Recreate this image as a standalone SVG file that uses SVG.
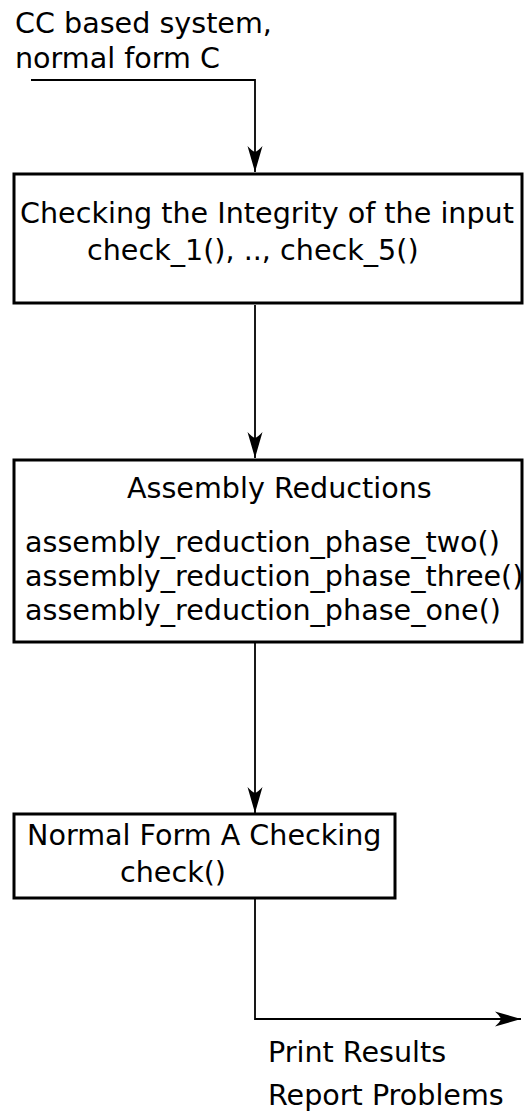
<svg xmlns="http://www.w3.org/2000/svg" width="526" height="1112" viewBox="0 0 526 1112">
<style>
text{font-family:"DejaVu Sans",sans-serif;font-size:28.6px;fill:#000}
.box{fill:#fff;stroke:#000;stroke-width:3}
.conn{fill:none;stroke:#000;stroke-width:1.8}
</style>
<defs>
<marker id="ah" viewBox="-27 -9 29 18" refX="0" refY="0" markerWidth="29" markerHeight="18" markerUnits="userSpaceOnUse" orient="auto">
<path d="M0,0 L-26,-7.5 Q-21,-3 -20,0 Q-21,3 -26,7.5 Z" fill="#000"/>
</marker>
</defs>
<rect width="526" height="1112" fill="#fff"/>
<g id="connectors">
<path class="conn" d="M31,80 H255 V172" marker-end="url(#ah)"/>
<path class="conn" d="M255,305 V458" marker-end="url(#ah)"/>
<path class="conn" d="M255,643 V813" marker-end="url(#ah)"/>
<path class="conn" d="M255,899 V1019 H521" marker-end="url(#ah)"/>
</g>
<g id="input">
<text x="15" y="33">CC based system,</text>
<text x="15" y="68">normal form C</text>
</g>
<g id="integrity">
<rect class="box" x="14" y="174" width="508" height="129"/>
<text x="20" y="223">Checking the Integrity of the input</text>
<text x="87" y="260">check_1(), .., check_5()</text>
</g>
<g id="assembly">
<rect class="box" x="14" y="460" width="508" height="182"/>
<text x="127" y="498">Assembly Reductions</text>
<text x="25" y="552">assembly_reduction_phase_two()</text>
<text x="25" y="586">assembly_reduction_phase_three()</text>
<text x="25" y="620">assembly_reduction_phase_one()</text>
</g>
<g id="normalform">
<rect class="box" x="14" y="814" width="381" height="84"/>
<text x="27" y="845">Normal Form A Checking</text>
<text x="120" y="882">check()</text>
</g>
<g id="output">
<text x="268" y="1062">Print Results</text>
<text x="268" y="1105">Report Problems</text>
</g>
</svg>
